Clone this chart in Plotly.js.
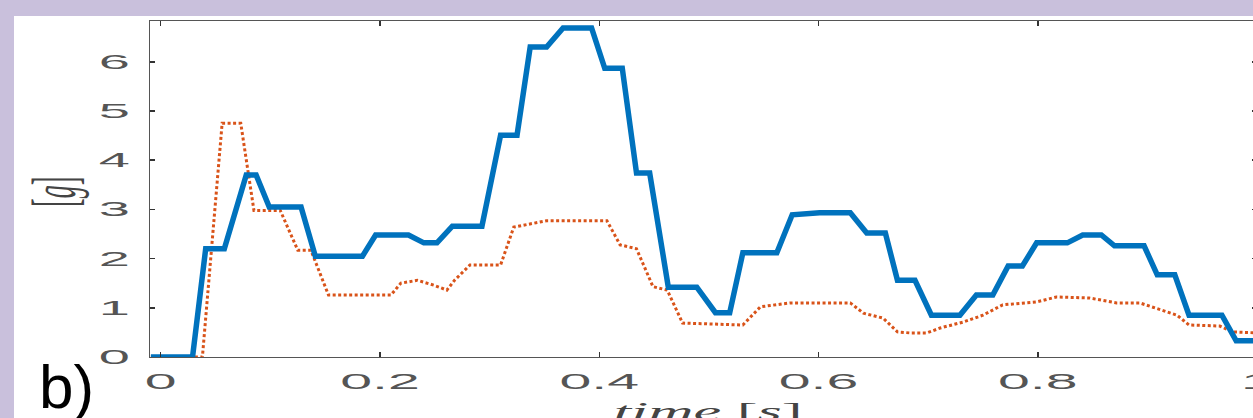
<!DOCTYPE html>
<html>
<head>
<meta charset="utf-8">
<script src="https://cdn.plot.ly/plotly-3.0.1.min.js"></script>
<style>
  html, body { margin:0; padding:0; width:1253px; height:418px; overflow:hidden; background:#c9c0dc; }
  #chart { position:absolute; left:14px; top:16px; width:1250px; height:402px; background:#ffffff; }
</style>
</head>
<body>
<div id="chart"></div>
<script>
// Blue (solid) series
const timeBlue = [-0.009,0.029,0.041,0.058,0.078,0.087,0.099,0.128,0.141,0.184,0.196,0.226,0.240,0.252,0.266,0.293,0.310,0.325,0.337,0.352,0.367,0.393,0.405,0.421,0.434,0.446,0.463,0.489,0.506,0.519,0.531,0.562,0.576,0.601,0.629,0.644,0.661,0.672,0.688,0.703,0.729,0.744,0.759,0.773,0.786,0.799,0.827,0.841,0.858,0.870,0.897,0.909,0.925,0.938,0.968,0.981,1.0];
const accelBlue = [0,0,2.2,2.2,3.7,3.7,3.05,3.05,2.05,2.05,2.48,2.48,2.32,2.32,2.66,2.66,4.51,4.51,6.3,6.3,6.69,6.69,5.87,5.87,3.74,3.74,1.42,1.42,0.9,0.9,2.12,2.12,2.89,2.93,2.93,2.52,2.52,1.56,1.56,0.85,0.85,1.26,1.26,1.85,1.85,2.32,2.32,2.48,2.48,2.26,2.26,1.67,1.67,0.85,0.85,0.33,0.33];

// Orange (dotted) series
const timeOrange = [-0.009,0.038,0.056,0.073,0.085,0.109,0.125,0.137,0.153,0.210,0.219,0.234,0.249,0.261,0.268,0.282,0.310,0.322,0.352,0.407,0.419,0.434,0.449,0.462,0.476,0.531,0.547,0.574,0.629,0.641,0.659,0.672,0.683,0.699,0.711,0.732,0.750,0.768,0.799,0.817,0.847,0.872,0.893,0.908,0.927,0.938,0.966,0.978,1.0];
const accelOrange = [0,0,4.75,4.75,2.98,2.98,2.17,2.17,1.26,1.26,1.5,1.56,1.46,1.36,1.56,1.87,1.87,2.64,2.77,2.77,2.28,2.2,1.43,1.36,0.69,0.65,1.02,1.1,1.1,0.89,0.79,0.51,0.49,0.49,0.59,0.71,0.85,1.06,1.12,1.22,1.2,1.1,1.1,0.99,0.85,0.65,0.63,0.51,0.49];

const xTickVals = [0, 0.2, 0.4, 0.6, 0.8, 1];
const xTickText = ['0', '0.2', '0.4', '0.6', '0.8', '1'];
const yTickVals = [0, 1, 2, 3, 4, 5, 6];
const yTickText = ['0', '1', '2', '3', '4', '5', '6'];

const W = 1250, H = 402;
const M = {l:136, r:7, t:5, b:61};
const pw = W - M.l - M.r, ph = H - M.t - M.b;
// helpers: page pixel -> paper fraction (div offset 14,16)
const px = v => (v - 14 - M.l) / pw;
const py = v => 1 - (v - 16 - M.t) / ph;

// the reference figure is stretched horizontally; its texts are drawn wide
const STRETCH_X = 2.6, STRETCH_Y = 2.8, STRETCH_T = 2.45;

const traces = [
  {x: timeOrange, y: accelOrange, type:'scatter', mode:'lines',
   line:{color:'#D95319', width:3, dash:'3px,2.5px'}, hoverinfo:'skip'},
  {x: timeBlue, y: accelBlue, type:'scatter', mode:'lines',
   line:{color:'#0072BD', width:5.5}, hoverinfo:'skip'}
];

const axisCommon = {
  showgrid:false, zeroline:false, showline:true, linecolor:'#555555', linewidth:1.2,
  mirror:'ticks', ticks:'inside', ticklen:5, tickcolor:'#333333', tickwidth:1.5
};

const layout = {
  width: W, height: H,
  margin: M,
  paper_bgcolor:'#ffffff', plot_bgcolor:'#ffffff',
  showlegend:false,
  xaxis: Object.assign({}, axisCommon, {range:[-0.0098, 1.0], tickmode:'array', tickvals:xTickVals, ticktext:xTickText, ticklabelstandoff:4,
    tickfont:{family:'Liberation Sans, Arial, sans-serif', size:22, color:'#555555'}}),
  yaxis: Object.assign({}, axisCommon, {range:[0, 6.83], tickmode:'array', tickvals:yTickVals, ticktext:yTickText, ticklabelstandoff:15,
    tickfont:{family:'Liberation Sans, Arial, sans-serif', size:20, color:'#555555'}}),
  annotations: [
    {xref:'paper', yref:'paper', x:px(708), y:py(411), text:'<i>time</i> [<i>s</i>]', showarrow:false,
     xanchor:'center', yanchor:'middle', font:{family:'Liberation Serif, serif', size:26, color:'#444444'}},
    {xref:'paper', yref:'paper', x:px(54), y:py(192), text:'[<i>g</i>]', showarrow:false, textangle:-90,
     xanchor:'center', yanchor:'middle', font:{family:'Liberation Serif, serif', size:26, color:'#444444'}},
    {xref:'paper', yref:'paper', x:px(66), y:py(386), text:'b)', showarrow:false,
     xanchor:'center', yanchor:'middle', font:{family:'Liberation Sans, Arial, sans-serif', size:62, color:'#000000'}}
  ]
};

function stretchEl(el, s, anchor) {
  const bb = el.getBBox();
  const ax = anchor === 'end' ? bb.x + bb.width : (anchor === 'start' ? bb.x : bb.x + bb.width / 2);
  const t = el.getAttribute('transform') || '';
  el.setAttribute('transform', t + ' translate(' + ax + ',0) scale(' + s + ',1) translate(' + (-ax) + ',0)');
}

Plotly.newPlot('chart', traces, layout, {staticPlot:true, displayModeBar:false}).then(function (gd) {
  gd.querySelectorAll('.xtick text').forEach(el => stretchEl(el, STRETCH_X, 'middle'));
  gd.querySelectorAll('.ytick text').forEach(el => stretchEl(el, STRETCH_Y, 'end'));
  gd.querySelectorAll('g.annotation').forEach(el => {
    const idx = el.getAttribute('data-index');
    if (idx === '0') stretchEl(el, STRETCH_T * 0.98, 'middle');
    if (idx === '1') stretchEl(el, STRETCH_T, 'middle');
  });
});
</script>
</body>
</html>
